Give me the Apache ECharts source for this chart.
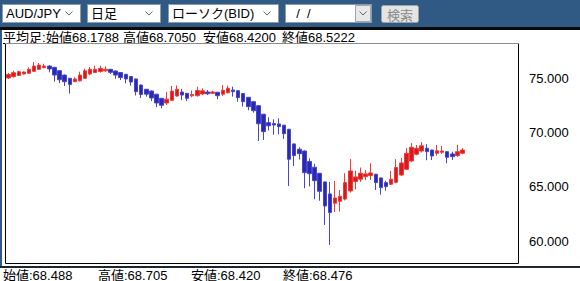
<!DOCTYPE html>
<html><head><meta charset="utf-8">
<script src="https://cdn.jsdelivr.net/npm/echarts@6/dist/echarts.min.js"></script>
<style>html,body{margin:0;padding:0;background:#fff;overflow:hidden}#c{width:580px;height:281px}</style>
</head><body><div id="c"></div>
<script>
// Daily AUD/JPY candles (open, close, low, high)
const opens  = [75.03,75.15,75.26,75.40,75.46,75.64,75.83,75.98,76.13,76.01,
                75.70,75.30,75.00,74.69,74.77,75.00,75.40,75.53,75.63,75.69,
                75.83,75.67,75.53,75.37,75.17,74.94,74.38,73.99,73.83,73.54,
                73.16,72.73,72.98,73.37,73.74,73.62,73.39,73.40,73.56,73.74,
                73.62,73.72,73.54,73.68,73.92,73.86,73.60,73.25,72.85,72.48,
                71.70,70.92,70.84,70.80,70.69,70.31,68.96,68.47,68.31,67.35,
                66.81,66.26,65.46,64.36,63.50,63.68,63.88,64.63,65.49,65.71,
                65.95,66.04,66.17,65.83,65.40,65.25,65.43,66.10,66.63,67.39,
                68.01,68.31,68.56,68.40,68.10,68.19,68.25,68.04,67.88,68.10];
const closes = [75.35,75.52,75.61,75.58,75.83,76.13,76.22,76.13,75.86,75.30,
                74.87,74.69,74.43,74.94,75.30,75.69,75.83,75.83,75.92,75.83,
                75.55,75.30,75.07,74.94,74.66,73.77,73.51,73.54,73.19,72.73,
                72.52,73.08,73.83,74.00,73.46,73.16,73.51,73.88,73.85,73.58,
                73.74,73.40,73.90,74.08,73.77,73.22,72.85,72.39,72.02,70.82,
                70.09,70.63,70.70,70.55,69.90,67.55,67.88,68.06,66.32,66.22,
                65.58,64.60,63.25,62.64,63.99,64.14,65.40,66.47,65.92,66.26,
                66.20,66.29,65.40,64.94,65.03,65.72,66.79,67.21,68.10,68.65,
                68.56,68.79,68.25,67.85,68.33,68.31,67.73,67.79,68.25,68.40];
const lows   = [74.94,75.07,75.21,75.35,75.40,75.58,75.76,75.92,75.55,74.69,
                74.57,74.29,73.60,74.66,74.71,74.95,75.30,75.49,75.53,75.58,
                75.40,74.96,74.84,74.54,74.32,73.42,73.19,73.31,72.91,72.36,
                72.24,72.54,72.93,73.31,73.00,72.91,73.25,73.31,73.46,73.46,
                73.56,73.07,73.37,73.60,73.31,72.85,72.39,72.06,71.84,69.23,
                69.32,70.20,69.81,69.85,69.42,65.09,66.93,67.53,64.88,65.05,
                63.87,63.73,61.50,59.66,62.70,62.73,63.76,64.48,64.77,65.46,
                65.64,65.64,64.72,64.29,64.66,65.18,65.34,66.01,66.56,67.30,
                67.92,68.17,67.46,67.48,67.88,68.04,67.18,67.48,67.76,68.02];
const highs  = [75.49,75.70,75.70,75.63,76.01,76.50,76.41,76.34,76.22,76.04,
                75.72,75.35,75.03,75.09,75.61,75.90,76.04,76.16,76.16,76.09,
                75.86,75.72,75.58,75.40,75.21,74.98,74.43,74.02,73.88,73.56,
                73.19,73.74,74.29,74.34,74.03,73.65,73.88,74.23,74.08,73.92,
                73.86,73.74,74.38,74.32,74.23,73.88,73.62,73.28,72.87,72.50,
                71.72,71.41,71.23,71.32,70.70,70.34,69.00,68.65,68.36,67.64,
                67.14,66.29,65.49,65.46,65.55,64.72,66.26,67.58,66.49,66.79,
                66.56,67.18,66.20,65.86,65.58,66.47,67.56,67.67,68.59,69.05,
                68.86,69.14,68.93,68.43,68.86,68.77,68.27,68.25,68.89,68.59];
const categories = opens.map((_, i) => String(i + 1));
const yTicks = [60, 65, 70, 75];
const headerParts = ['始値68.1788', '高値68.7050', '安値68.4200', '終値68.5222'];
const footerParts = ['始値:68.488', '高値:68.705', '安値:68.420', '終値:68.476'];
const selects = ['AUD/JPY', '日足', 'ローソク(BID)', '  /  /'];

const chart = echarts.init(document.getElementById('c'), null, {renderer: 'svg'});
const FONT = '"Liberation Sans", "Noto Sans CJK JP", sans-serif';
const g = [];
// toolbar
g.push({type:'rect', shape:{x:0,y:0,width:580,height:28}, style:{fill:'#305a84'}, z:1});
g.push({type:'rect', shape:{x:0,y:27,width:580,height:3}, style:{fill:'#0a0a0a'}, z:1});
g.push({type:'rect', shape:{x:0,y:30,width:2,height:238}, style:{fill:'#305a84'}, z:1});
g.push({type:'rect', shape:{x:0,y:266,width:580,height:2}, style:{fill:'#1c2630'}, z:1});
const selBoxes = [[2,80],[87,160],[168,278],[285,371]];
selBoxes.forEach((b, i) => {
  g.push({type:'rect', shape:{x:b[0]+0.5,y:4.5,width:b[1]-b[0],height:18}, style:{fill:'#fff', stroke:'#8a9cb0', lineWidth:1}, z:2});
  g.push({type:'text', x:b[0]+4, y:13.5, style:{text:selects[i], fill:'#000', font:'13px ' + FONT, verticalAlign:'middle'}, z:3});
  let ax = b[1]-11;
  if (i === 3) {
    g.push({type:'rect', shape:{x:b[1]-15.5,y:5.5,width:15,height:16}, style:{fill:'#e8e8e8', stroke:'#9aa6b4', lineWidth:1}, z:3});
    ax = b[1]-8;
  }
  g.push({type:'polyline', shape:{points:[[ax-3.5,11.5],[ax,15],[ax+3.5,11.5]]}, style:{stroke:'#666', lineWidth:1, fill:null}, z:4});
});
g.push({type:'rect', shape:{x:381.5,y:5.5,width:37,height:17, r:2}, style:{fill:'#e4e4e4', stroke:'#a0a0a0', lineWidth:1}, z:2});
g.push({type:'text', x:400, y:14, style:{text:'検索', fill:'#8a8a8a', font:'13px "Noto Sans CJK JP", sans-serif', align:'center', verticalAlign:'middle'}, z:3});
// header text
g.push({type:'text', x:3, y:37, style:{text:'平均足:', fill:'#000', font:'13px ' + FONT, verticalAlign:'middle'}, z:3});
g.push({type:'rect', shape:{x:3,y:43,width:40,height:1}, style:{fill:'#000'}, z:3});
[46, 123, 203, 282].forEach((x, i) => {
  g.push({type:'text', x:x, y:37, style:{text:headerParts[i], fill:'#000', font:'13px ' + FONT, verticalAlign:'middle'}, z:3});
});
// footer text
[3, 98, 191, 283].forEach((x, i) => {
  g.push({type:'text', x:x, y:275, style:{text:footerParts[i], fill:'#000', font:'13px ' + FONT, verticalAlign:'middle'}, z:3});
});
// plot frame
g.push({type:'rect', shape:{x:5.5,y:43.5,width:513,height:220}, style:{fill:null, stroke:'#000', lineWidth:1}, z:5});
g.push({type:'line', shape:{x1:5,y1:43.5,x2:519,y2:43.5}, style:{stroke:'#8c8c8c', lineWidth:1}, z:6});

chart.setOption({
  animation: false,
  backgroundColor: '#fff',
  grid: {left: 6, top: 43, width: 510, height: 220},
  xAxis: {type:'category', data: categories, max: 99, show: false, boundaryGap: true},
  yAxis: {
    type:'value', position:'right', min:58, max:78.25, scale:true,
    splitLine:{show:false}, axisLine:{show:false}, axisTick:{show:false},
    axisLabel:{customValues: yTicks, formatter: v => v.toFixed(3), color:'#000', fontSize:13, margin:13, fontFamily:'"Liberation Sans", sans-serif'}
  },
  series: [{
    type:'candlestick', barWidth: 4,
    data: opens.map((o, i) => [o, closes[i], lows[i], highs[i]]),
    itemStyle: {color:'#d41c1c', color0:'#2a2aae', borderColor:'#f23a3a', borderColor0:'#4646d2', borderWidth:1}
  }],
  graphic: g
});
</script></body></html>
